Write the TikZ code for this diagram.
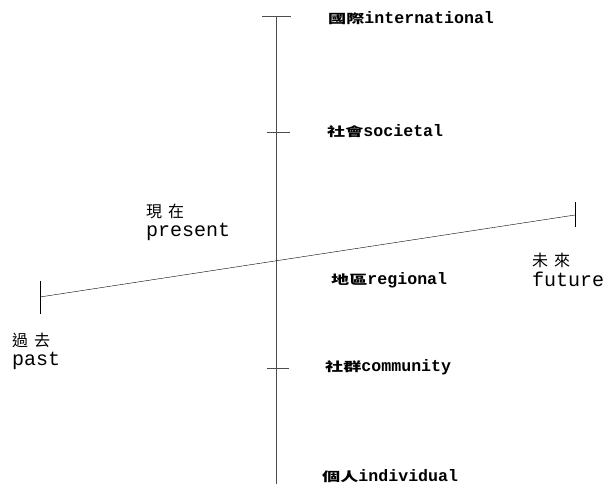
\documentclass[tikz,border=0pt]{standalone}
\usepackage{fontspec}
\newfontfamily\cjk{Noto Sans CJK TC}
\newfontfamily\cjkwide[FakeStretch=1.45]{Noto Sans CJK TC}
\newfontfamily\mono{Liberation Mono}
\newcommand{\lev}[2]{{\cjkwide\bfseries\fontsize{12.5}{12.5}\selectfont #1}{\mono\bfseries\fontsize{16.6}{16.6}\selectfont #2}}
\newcommand{\tim}[3]{{\cjk\fontsize{16}{22}\selectfont #1\hspace{6pt}#2}\\[4pt]{\mono\fontsize{20}{22}\selectfont #3}}
\begin{document}
\begin{tikzpicture}[x=1pt, y=-1pt, inner sep=0pt]
		\useasboundingbox (0,0) rectangle (606,484);
		%Axe vertical des niveaux
		\coordinate (vtop) at (276,17);
		\coordinate (vbot) at (276,490);
		\coordinate (vsoc) at (276,133);
		\coordinate (vcomm) at (276,368);
		%Axe du temps
		\coordinate (past) at (40,297);
		\coordinate (future) at (575,215);
		
		\draw[gray!60!black, line width=1pt] (vtop) -- (vbot);
		\draw[gray!60!black, line width=1pt] ([xshift=-14pt]vtop) -- ([xshift=15pt]vtop);
		\draw[gray!60!black, line width=1pt] ([xshift=-9pt]vsoc) -- ([xshift=14pt]vsoc);
		\draw[gray!60!black, line width=1pt] ([xshift=-9pt]vcomm) -- ([xshift=13pt]vcomm);
		
		\draw (past) -- (future);
		\draw ([yshift=-17pt]past) -- ([yshift=16pt]past);
		\draw ([yshift=-12pt]future) -- ([yshift=13pt]future);
		
		%Niveaux
		\node[anchor=west] (intl) at (328,18) {\lev{國際}{international}};
		\node[anchor=west] (soc) at (327,131) {\lev{社會}{societal}};
		\node[anchor=west] (reg) at (331,280) {\lev{地區}{regional}};
		\node[anchor=west] (comm) at (325,367) {\lev{社群}{community}};
		\node[anchor=west] (indiv) at (322,476) {\lev{個人}{individual}};
		
		%Temps (ligne de base de la derniere ligne)
		\node[anchor=base west, align=left] (pres) at (146,237) {\tim{現}{在}{present}};
		\node[anchor=base west, align=left] (futlbl) at (532,287) {\tim{未}{來}{future}};
		\node[anchor=base west, align=left] (pastlbl) at (12,366) {\tim{過}{去}{past}};
	\end{tikzpicture}
\end{document}
